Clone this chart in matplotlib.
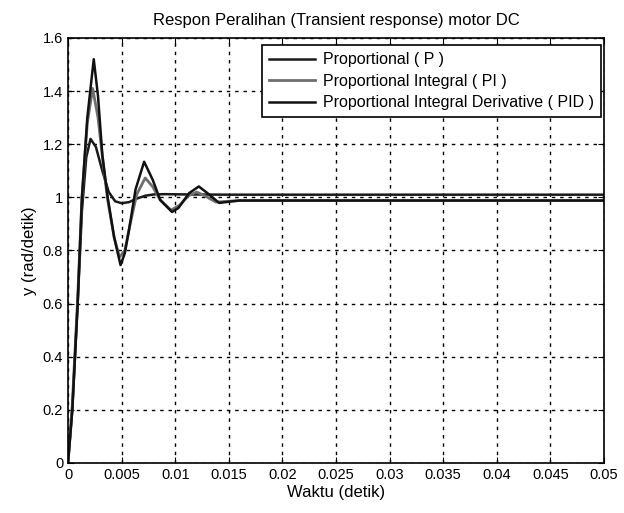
import matplotlib
matplotlib.use("Agg")
import matplotlib.pyplot as plt

# values
t_p = [0, 0.0004, 0.0009, 0.0013, 0.0017, 0.0021, 0.0026, 0.0032, 0.0038, 0.0044,
       0.005, 0.0057, 0.0064, 0.0072, 0.008, 0.009, 0.011, 0.015, 0.05]
y_p = [0, 0.2, 0.6, 0.95, 1.15, 1.22, 1.19, 1.10, 1.02, 0.985,
       0.978, 0.982, 0.995, 1.006, 1.011, 1.012, 1.011, 1.01, 1.01]

t_pi = [0, 0.0004, 0.0009, 0.0013, 0.0018, 0.0023, 0.0028, 0.0033, 0.0037, 0.0043,
        0.0048, 0.0053, 0.0058, 0.0064, 0.0072, 0.0079, 0.0086, 0.0096, 0.0104, 0.0112,
        0.012, 0.0128, 0.0138, 0.0148, 0.016, 0.05]
y_pi = [0, 0.22, 0.62, 1.0, 1.28, 1.41, 1.3, 1.12, 0.99, 0.85,
        0.775, 0.80, 0.90, 1.01, 1.073, 1.04, 0.99, 0.952, 0.97, 1.005,
        1.02, 1.005, 0.982, 0.985, 0.988, 0.988]

t_pid = [0, 0.0004, 0.0009, 0.0013, 0.0018, 0.0024, 0.0028, 0.0032, 0.0037, 0.0043,
         0.0049, 0.0053, 0.0057, 0.0063, 0.0071, 0.0079, 0.0086, 0.0097, 0.0103, 0.0113,
         0.0122, 0.013, 0.0141, 0.0153, 0.016, 0.05]
y_pid = [0, 0.2, 0.6, 1.0, 1.3, 1.52, 1.38, 1.16, 1.0, 0.85,
         0.745, 0.79, 0.88, 1.03, 1.134, 1.066, 0.99, 0.945, 0.96, 1.016,
         1.041, 1.016, 0.979, 0.985, 0.988, 0.988]

labels = ["Proportional ( P )", "Proportional Integral ( PI )",
          "Proportional Integral Derivative ( PID )"]
x_ticks = [0, 0.005, 0.01, 0.015, 0.02, 0.025, 0.03, 0.035, 0.04, 0.045, 0.05]
x_ticklabels = ["0", "0.005", "0.01", "0.015", "0.02", "0.025", "0.03", "0.035", "0.04", "0.045", "0.05"]
y_ticks = [0, 0.2, 0.4, 0.6, 0.8, 1, 1.2, 1.4, 1.6]
y_ticklabels = ["0", "0.2", "0.4", "0.6", "0.8", "1", "1.2", "1.4", "1.6"]

plt.rcParams["font.family"] = ["Liberation Sans", "DejaVu Sans"]

fig = plt.figure(figsize=(6.24, 5.13), dpi=100)
ax = fig.add_axes([0.109, 0.0975, 0.859, 0.8285])

ax.plot(t_p, y_p, color="#1a1a1a", lw=1.8, label=labels[0])
ax.plot(t_pi, y_pi, color="#6e6e6e", lw=2.0, label=labels[1])
ax.plot(t_pid, y_pid, color="#111111", lw=1.8, label=labels[2])

ax.set_xlim(0, 0.05)
ax.set_ylim(0, 1.6)
ax.set_xticks(x_ticks)
ax.set_xticklabels(x_ticklabels)
ax.set_yticks(y_ticks)
ax.set_yticklabels(y_ticklabels)
ax.tick_params(direction="in", labelsize=10.5, length=4, color="black", top=True, right=True)
ax.grid(True, color="black", linestyle=(0, (2.5, 3.5)), linewidth=1.0)

for s in ax.spines.values():
    s.set_color("black")
    s.set_linewidth(1.2)

ax.set_title("Respon Peralihan (Transient response) motor DC", fontsize=12, pad=9)
ax.set_xlabel("Waktu (detik)", fontsize=12, labelpad=2)
ax.set_ylabel("y (rad/detik)", fontsize=12, labelpad=4)

leg = ax.legend(loc="upper right", bbox_to_anchor=(0.995, 0.983), fontsize=11.5,
                frameon=True, fancybox=False, edgecolor="black", framealpha=1,
                handlelength=2.9, handletextpad=0.5, borderaxespad=0.0,
                labelspacing=0.4, borderpad=0.45)
leg.get_frame().set_linewidth(1.2)

fig.savefig("out.png", dpi=100)
